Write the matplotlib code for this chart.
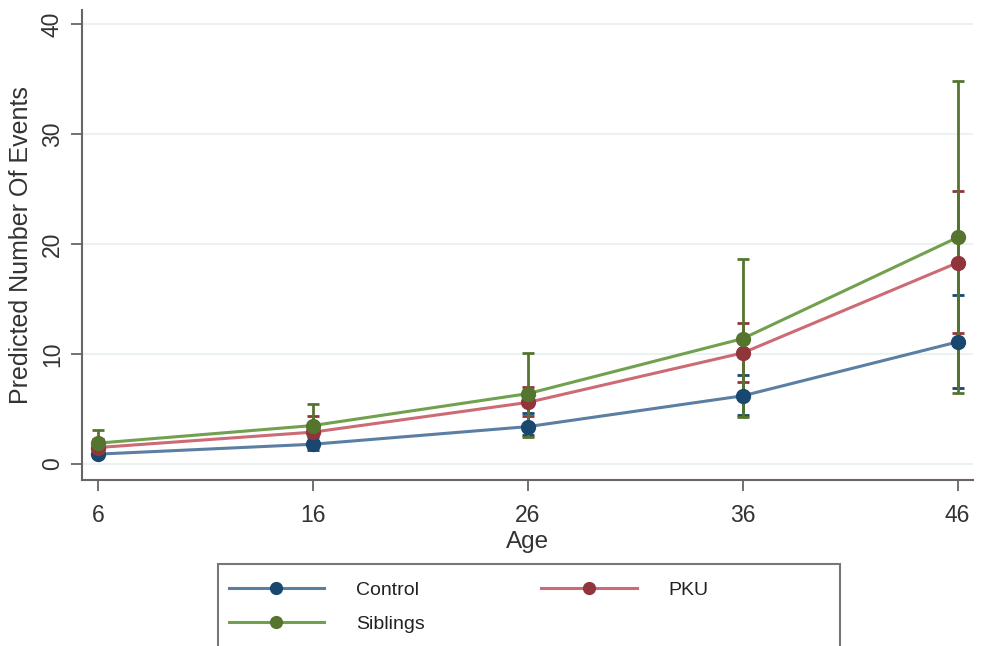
import numpy as np
import matplotlib
matplotlib.use("Agg")
import matplotlib.pyplot as plt
from matplotlib.patches import Rectangle

plt.rcParams['font.family'] = ['Liberation Sans', 'DejaVu Sans']

# --- data ---
ages = [6, 16, 26, 36, 46]
groups = ["Control", "PKU", "Siblings"]

control_mean = [0.9, 1.8, 3.4, 6.2, 11.1]
control_lo = [0.6, 1.3, 2.6, 4.5, 6.9]
control_hi = [1.3, 2.5, 4.6, 8.1, 15.4]

pku_mean = [1.5, 2.9, 5.6, 10.1, 18.3]
pku_lo = [0.8, 1.6, 4.4, 7.5, 11.9]
pku_hi = [2.3, 4.4, 7.0, 12.8, 24.8]

sib_mean = [1.9, 3.5, 6.4, 11.4, 20.6]
sib_lo = [1.0, 1.8, 2.5, 4.3, 6.5]
sib_hi = [3.1, 5.5, 10.1, 18.6, 34.8]

yticks = [0, 10, 20, 30, 40]

# Stata s2color-ish colours
marker_cols = {"Control": "#1a476f", "PKU": "#90353b", "Siblings": "#55752f"}
line_cols = {"Control": "#5b7ea3", "PKU": "#cc6b74", "Siblings": "#71a04e"}

series = {
    "Control": (control_mean, control_lo, control_hi),
    "PKU": (pku_mean, pku_lo, pku_hi),
    "Siblings": (sib_mean, sib_lo, sib_hi),
}

fig = plt.figure(figsize=(9.82, 6.46), dpi=100)
ax = fig.add_axes([0.0835, 0.257, 0.907, 0.728])

# CI bars first, then lines + markers on top
for g in groups:
    m, lo, hi = series[g]
    m = np.array(m)
    err = [m - np.array(lo), np.array(hi) - m]
    ax.errorbar(ages, m, yerr=err, fmt='none', ecolor=marker_cols[g],
                elinewidth=2, capsize=4.5, capthick=2, zorder=2)

handles = {}
for g in groups:
    m = series[g][0]
    h, = ax.plot(ages, m, color=line_cols[g], lw=2.2, marker='o', ms=10,
                 mfc=marker_cols[g], mec=marker_cols[g], zorder=3)
    handles[g] = h

ax.set_xlim(5.25, 46.7)
ax.set_ylim(-1.45, 41.3)
ax.set_xticks(ages)
ax.set_yticks(yticks)
ax.grid(axis='y', color='#eaf2f3', lw=1.5)
ax.set_axisbelow(True)

for s in ['top', 'right']:
    ax.spines[s].set_visible(False)
for s in ['left', 'bottom']:
    ax.spines[s].set_color('#666666')
    ax.spines[s].set_linewidth(1.5)

ax.tick_params(axis='both', colors='#666666', length=8, width=1.3, labelsize=16.5,
               labelcolor='#333333')
ax.tick_params(axis='x', pad=9)
ax.tick_params(axis='y', pad=5)
for lbl in ax.get_yticklabels():
    lbl.set_rotation(90)
    lbl.set_va('center')

ax.set_xlabel("Age", fontsize=17.5, color='#333333', labelpad=3)
ax.set_ylabel("Predicted Number Of Events", fontsize=18, color='#333333', labelpad=6)

# legend: entries without frame, box drawn separately (it runs off the bottom)
leg = fig.legend([handles["Control"], handles["Siblings"], handles["PKU"]],
                 ["Control", "Siblings", "PKU"], ncol=2,
                 loc='upper left', bbox_to_anchor=(0.213, 0.130),
                 fontsize=14, handlelength=4.9, handletextpad=1.65,
                 columnspacing=6.0, borderpad=0.5, labelspacing=0.85,
                 frameon=False, markerscale=0.85)
for t in leg.get_texts():
    t.set_color('#222222')
fig.patches.append(Rectangle((218 / 982, -0.02), (840 - 218) / 982, 0.02 + (646 - 564) / 646,
                             transform=fig.transFigure, fill=False,
                             edgecolor='#777777', lw=1.5))

fig.savefig("out.png", dpi=100)
